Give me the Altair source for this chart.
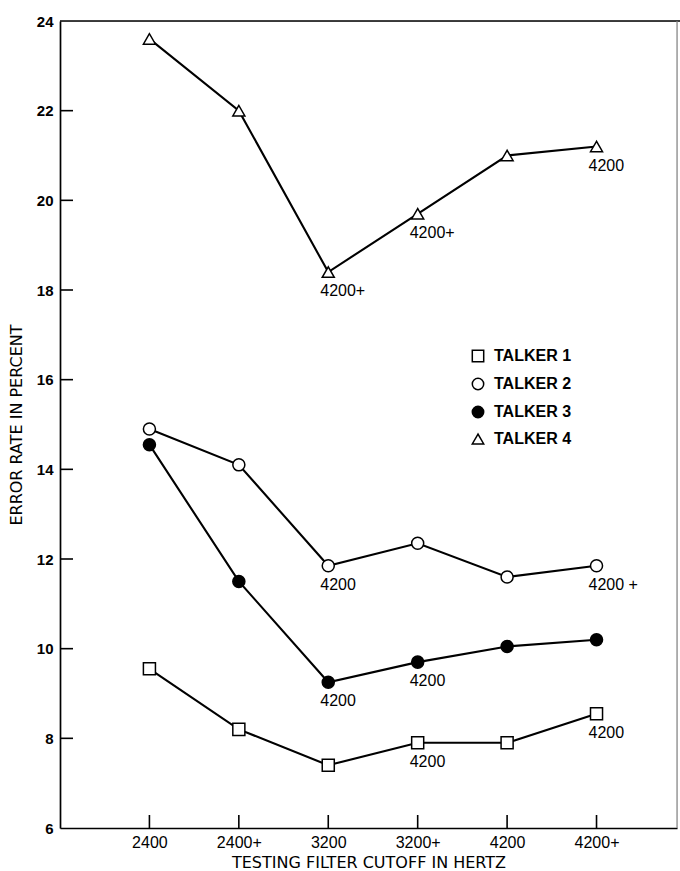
import altair as alt
import pandas as pd

# Filter cutoff categories on the x axis
cutoffs = ["2400", "2400+", "3200", "3200+", "4200", "4200+"]
talkers = ["TALKER 1", "TALKER 2", "TALKER 3", "TALKER 4"]

# Error rate (%) for each talker at each testing filter cutoff
talker1 = [9.55, 8.2, 7.4, 7.9, 7.9, 8.55]
talker2 = [14.9, 14.1, 11.85, 12.35, 11.6, 11.85]
talker3 = [14.55, 11.5, 9.25, 9.7, 10.05, 10.2]
talker4 = [23.6, 22.0, 18.4, 19.7, 21.0, 21.2]

# Training-filter notes written under individual points: (talker, cutoff index, note)
notes = [
    ("TALKER 4", 2, "4200+"), ("TALKER 4", 3, "4200+"), ("TALKER 4", 5, "4200"),
    ("TALKER 2", 2, "4200"), ("TALKER 2", 5, "4200 +"),
    ("TALKER 3", 2, "4200"), ("TALKER 3", 3, "4200"),
    ("TALKER 1", 3, "4200"), ("TALKER 1", 5, "4200"),
]

y_ticks = [6, 8, 10, 12, 14, 16, 18, 20, 22, 24]

rows = []
for name, vals in zip(talkers, [talker1, talker2, talker3, talker4]):
    for i, v in enumerate(vals):
        rows.append({"talker": name, "idx": i, "cutoff": cutoffs[i], "rate": v})
df = pd.DataFrame(rows)

note_df = pd.DataFrame(
    [{"talker": t, "idx": i, "note": n,
      "rate": df[(df.talker == t) & (df.idx == i)].rate.iloc[0]} for t, i, n in notes]
)
xtick_df = pd.DataFrame({"idx": list(range(len(cutoffs)))})
ytick_df = pd.DataFrame({"rate": y_ticks[1:-1]})

FONT = "Liberation Sans"
TITLE_FONT = "DejaVu Sans"
W, H = 617, 807

label_expr = "[" + ",".join(f"'{c}'" for c in cutoffs) + "][datum.value]"

x_scale = alt.Scale(domain=[-1, 5.9], nice=False, zero=False)
y_scale = alt.Scale(domain=[6, 24], nice=False, zero=False)

x_enc = alt.X(
    "idx:Q", scale=x_scale,
    axis=alt.Axis(
        title="TESTING FILTER CUTOFF IN HERTZ", values=list(range(6)), labelExpr=label_expr,
        ticks=False, tickSize=0, grid=False, domainColor="black", domainWidth=1.7,
        labelFont=FONT, labelFontSize=16, labelColor="black", labelPadding=6,
        titleFont=TITLE_FONT, titleFontSize=16, titleFontWeight="normal", titleColor="black",
        titlePadding=4,
    ),
)
y_enc = alt.Y(
    "rate:Q", scale=y_scale,
    axis=alt.Axis(
        title="ERROR RATE IN PERCENT", values=y_ticks, ticks=False, tickSize=0, grid=False,
        domainColor="black", domainWidth=1.7,
        labelFont=FONT, labelFontSize=15, labelFontWeight="bold", labelColor="black",
        labelPadding=7,
        titleFont=TITLE_FONT, titleFontSize=16, titleFontWeight="normal", titleColor="black",
        titlePadding=12,
    ),
)

legend_style = dict(
    title=None, orient="none", legendX=410, legendY=327,
    labelFont=FONT, labelFontSize=16, labelColor="black", labelFontWeight="bold",
    symbolSize=130, symbolStrokeWidth=1.5,
    rowPadding=10, labelOffset=8,
)

base = alt.Chart(df)

lines = base.mark_line(color="black", strokeWidth=2.1).encode(
    x=x_enc, y=y_enc, detail="talker:N"
)

points = base.mark_point(strokeWidth=1.5, opacity=1, size=145).encode(
    x="idx:Q", y="rate:Q",
    shape=alt.Shape(
        "talker:N",
        scale=alt.Scale(domain=talkers, range=["square", "circle", "circle", "triangle-up"]),
        legend=alt.Legend(**legend_style),
    ),
    fill=alt.Fill(
        "talker:N",
        scale=alt.Scale(domain=talkers, range=["white", "white", "black", "white"]),
        legend=alt.Legend(**legend_style),
    ),
    stroke=alt.Stroke(
        "talker:N",
        scale=alt.Scale(domain=talkers, range=["black", "black", "black", "black"]),
        legend=alt.Legend(**legend_style),
    ),
)

note_text = alt.Chart(note_df).mark_text(
    font=FONT, fontSize=16, color="black", align="left", baseline="middle",
    dx=-8, dy=19,
).encode(x="idx:Q", y="rate:Q", text="note:N")

# inward-pointing tick marks on both axes
x_ticks = alt.Chart(xtick_df).mark_rule(color="black", strokeWidth=1.6).encode(
    x="idx:Q", y=alt.value(H), y2=alt.value(H - 13)
)
y_ticks_marks = alt.Chart(ytick_df).mark_rule(color="black", strokeWidth=1.6).encode(
    y="rate:Q", x=alt.value(0), x2=alt.value(13)
)

# top and right edges of the frame
top_edge = alt.Chart(pd.DataFrame({"v": [24]})).mark_rule(color="black", strokeWidth=1.7).encode(
    y="v:Q", x=alt.value(0), x2=alt.value(W + 3)
)
right_edge = alt.Chart(pd.DataFrame({"v": [5.9]})).mark_rule(color="#888", strokeWidth=1.2).encode(
    x="v:Q", y=alt.value(0), y2=alt.value(H)
)

chart = alt.layer(
    top_edge, right_edge, x_ticks, y_ticks_marks, lines, points, note_text
).properties(
    width=W, height=H,
    autosize=alt.AutoSizeParams(type="none"),
    padding={"left": 60, "top": 21, "right": 3, "bottom": 43},
).configure_view(stroke=None).configure(background="white")

chart.save("out.html", embed_options={"renderer": "svg", "actions": False})
